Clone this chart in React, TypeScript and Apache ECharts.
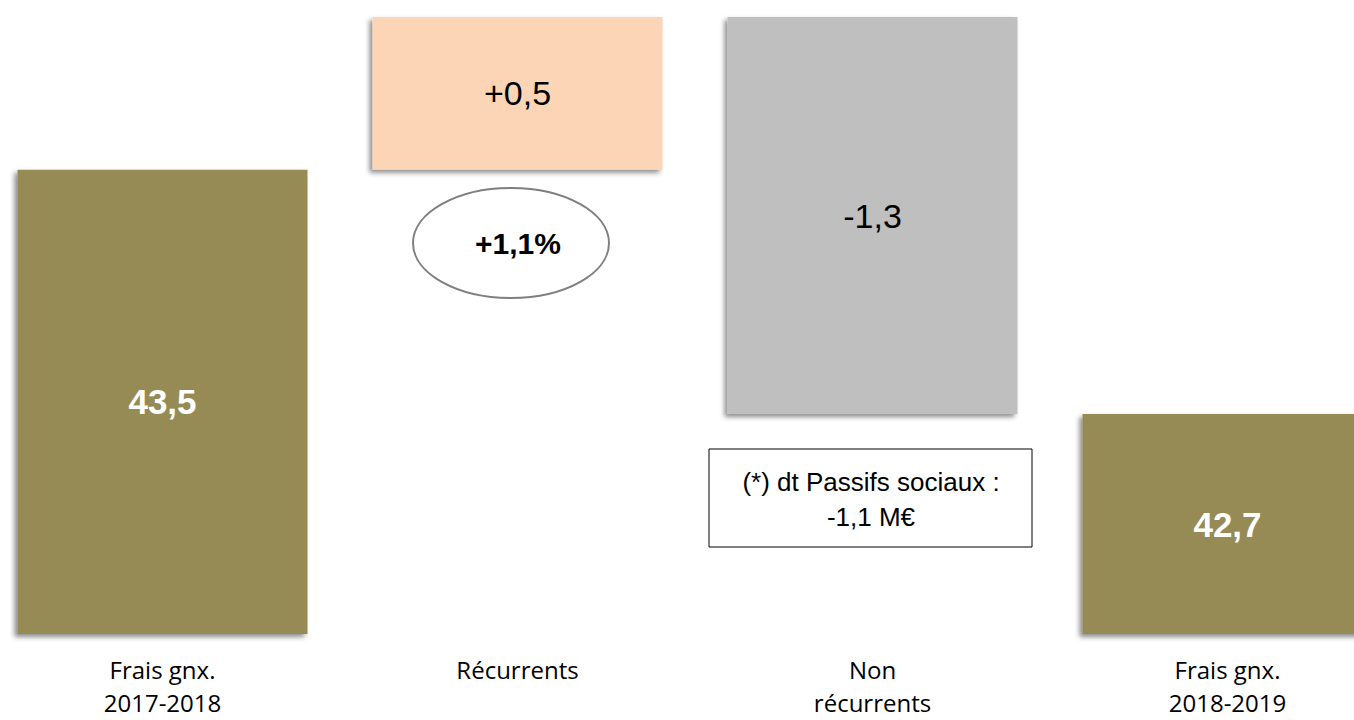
import React, { useEffect, useRef } from "react";
import * as echarts from "echarts";

const categories = ["Frais gnx.\n2017-2018", "Récurrents", "Non\nrécurrents", "Frais gnx.\n2018-2019"];
const values = [43.5, 0.5, -1.3, 42.7];
const isTotal = [true, false, false, true];
const barColors = ["#968A54", "#FBD5B5", "#BFBFBF", "#968A54"];
const labelColors = ["#FFFFFF", "#000000", "#000000", "#FFFFFF"];
const labelBold = [true, false, false, true];
const growthNote = "+1,1%";
const footNote = "(*) dt Passifs sociaux :\n-1,1 M€";

const SANS = "'Liberation Sans', Arial, sans-serif";

function fmt(v: number, total: boolean): string {
  const s = Math.abs(v).toFixed(1).replace(".", ",");
  if (total) return s;
  return (v >= 0 ? "+" : "-") + s;
}

export default function App() {
  const ref = useRef<HTMLDivElement>(null);
  useEffect(() => {
    if (!ref.current) return;
    const chart = echarts.init(ref.current, undefined, { renderer: "svg" });
    let running = 0;
    const base: number[] = [];
    const visible: any[] = [];
    values.forEach((v, i) => {
      if (isTotal[i]) {
        base.push(0);
        running = v;
      } else if (v >= 0) {
        base.push(running);
        running += v;
      } else {
        running += v;
        base.push(running);
      }
      visible.push({
        value: Math.abs(v),
        itemStyle: {
          color: barColors[i],
          shadowColor: "rgba(0,0,0,0.45)",
          shadowBlur: 5,
          shadowOffsetX: -3,
          shadowOffsetY: 3,
        },
        label: {
          color: labelColors[i],
          fontWeight: labelBold[i] ? "bold" : "normal",
          fontSize: labelBold[i] ? 35 : 34,
          formatter: fmt(v, isTotal[i]),
        },
      });
    });

    chart.setOption({
      animation: false,
      grid: {
        left: -15,
        width: 1420,
        top: 17,
        bottom: 86,
        containLabel: false,
        outerBoundsMode: "none",
      },
      xAxis: {
        type: "category",
        data: categories,
        axisLine: { show: false },
        axisTick: { show: false },
        axisLabel: {
          margin: 19,
          fontFamily: "'Open Sans', Lato, sans-serif",
          fontSize: 24,
          lineHeight: 33,
          color: "#000",
          verticalAlign: "top",
        },
      },
      yAxis: {
        type: "value",
        min: 41.98,
        max: 44.0,
        show: false,
        splitLine: { show: false },
      },
      series: [
        {
          type: "bar",
          stack: "w",
          data: base,
          barWidth: 290,
          itemStyle: { color: "transparent" },
          silent: true,
        },
        {
          type: "bar",
          stack: "w",
          data: visible,
          barWidth: 290,
          label: {
            show: true,
            position: "inside",
            fontFamily: SANS,
          },
        },
      ],
      graphic: [
        {
          type: "ellipse",
          shape: { cx: 511, cy: 243, rx: 98, ry: 55 },
          style: { fill: "#FFFFFF", stroke: "#7F7F7F", lineWidth: 2 },
        },
        {
          type: "text",
          x: 518,
          y: 243,
          style: {
            text: growthNote,
            fill: "#000",
            font: "bold 30px " + SANS,
            textAlign: "center",
            textVerticalAlign: "middle",
          },
        },
        {
          type: "rect",
          shape: { x: 709, y: 449, width: 323, height: 98 },
          style: { fill: "#FFFFFF", stroke: "#000000", lineWidth: 1 },
        },
        {
          type: "text",
          x: 871,
          y: 499,
          style: {
            text: footNote,
            fill: "#000",
            font: "26px " + SANS,
            lineHeight: 35,
            textAlign: "center",
            textVerticalAlign: "middle",
          },
        },
      ],
    });
    return () => chart.dispose();
  }, []);
  return (
    <div
      ref={ref}
      style={{ position: "absolute", left: 0, top: 0, width: 1354, height: 720, background: "#fff" }}
    />
  );
}
